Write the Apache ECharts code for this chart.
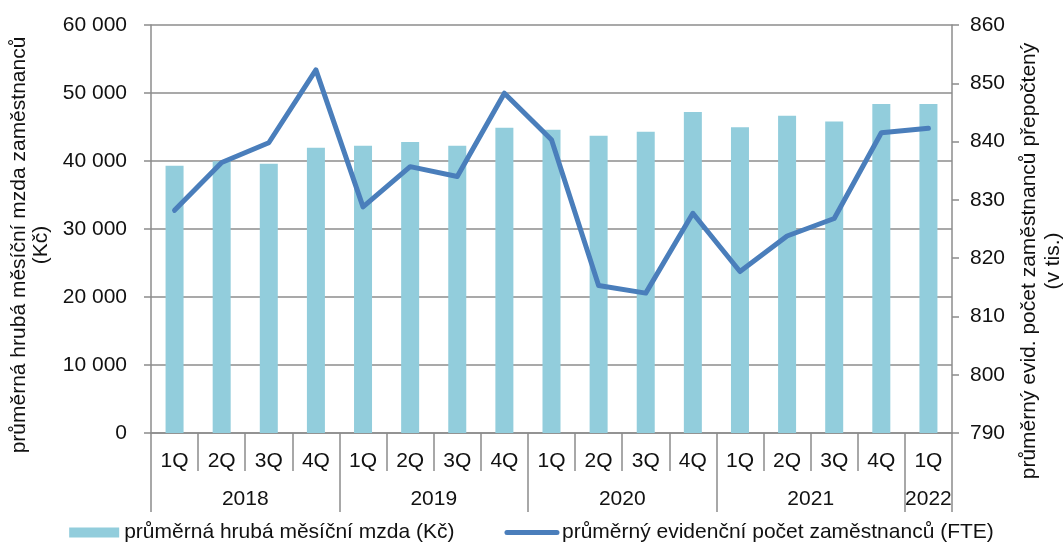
<!DOCTYPE html>
<html><head><meta charset="utf-8">
<script src="https://cdn.jsdelivr.net/npm/echarts@6/dist/echarts.min.js"></script>
<style>html,body{margin:0;padding:0;background:#fff}#c{width:1063px;height:550px}</style>
</head><body><div id="c"></div>
<script>
const quarters = ['1Q','2Q','3Q','4Q','1Q','2Q','3Q','4Q','1Q','2Q','3Q','4Q','1Q','2Q','3Q','4Q','1Q'];
const years = ['2018','2019','2020','2021','2022'];
const yearStart = [0,4,8,12,16];
const yearLen = [4,4,4,4,1];
const wages = [39300,39950,39600,41950,42250,42800,42250,44900,44600,43700,44300,47200,44950,46650,45800,48400,48400];
const employees = [828.2,836.4,839.8,852.3,828.8,835.7,834.0,848.3,840.3,815.3,814.0,827.7,817.7,823.8,826.8,841.5,842.3];
const wageName = 'průměrná hrubá měsíční mzda (Kč)';
const empName = 'průměrný evidenční počet zaměstnanců (FTE)';
const leftTitle = 'průměrná hrubá měsíční mzda zaměstnanců\n(Kč)';
const rightTitle = 'průměrný evid. počet zaměstnanců přepočtený\n(v tis.)';

const FONT = 'Liberation Sans, Arial, sans-serif';
const FS = 21;
const grey = '#8c8c8c';
const txt = '#111';

const yearLabels = quarters.map(() => '');
const yearShift = quarters.map(() => 0);
years.forEach((y, i) => {
  const mid = yearStart[i] + Math.floor(yearLen[i] / 2);
  yearLabels[mid] = y;
  yearShift[mid] = yearLen[i] % 2 === 0 ? 1 : 0;
});

const chart = echarts.init(document.getElementById('c'));
chart.setOption({
  animation: false,
  textStyle: { fontFamily: FONT },
  grid: { left: 151, right: 111, top: 25, bottom: 117, outerBoundsMode: 'none', containLabel: false },
  legend: {
    bottom: 2, left: 'center', itemWidth: 50, itemHeight: 10, itemGap: 50,
    textStyle: { fontSize: FS, color: txt, fontFamily: FONT },
    data: [
      { name: wageName, icon: 'rect' },
      { name: empName, itemStyle: { opacity: 0 }, lineStyle: { width: 5, color: '#4A7EBB', cap: 'round' } }
    ]
  },
  xAxis: [
    {
      type: 'category', data: quarters, position: 'bottom',
      axisLine: { show: true, lineStyle: { color: grey, width: 1.5 } },
      axisTick: { show: true, length: 38, interval: 0, lineStyle: { color: grey, width: 1.5 } },
      axisLabel: { interval: 0, margin: 18, fontSize: FS, color: txt }
    },
    {
      type: 'category', data: yearLabels, position: 'bottom',
      axisLine: { show: false },
      axisTick: { show: true, length: 79, interval: (i) => yearStart.indexOf(i) >= 0, lineStyle: { color: grey, width: 1.5 } },
      axisLabel: {
        interval: 0, margin: 56, fontSize: FS, color: txt,
        formatter: (v, i) => v ? (yearShift[i] ? '{s|' + v + '}' : v) : '',
        rich: { s: { fontSize: FS, color: txt, padding: [0, 47, 0, 0] } }
      }
    }
  ],
  yAxis: [
    {
      type: 'value', min: 0, max: 60000, interval: 10000, position: 'left',
      name: leftTitle, nameLocation: 'middle', nameGap: 95, nameRotate: 90,
      nameTextStyle: { fontSize: FS, color: txt, lineHeight: 22, padding: [0, 32, 0, 0] },
      axisLine: { show: true, lineStyle: { color: grey, width: 1.5 } },
      axisTick: { show: true, length: 7, lineStyle: { color: grey, width: 1.5 } },
      splitLine: { show: true, lineStyle: { color: grey, width: 1.5 } },
      axisLabel: { margin: 24, fontSize: FS, color: txt, formatter: v => String(v).replace(/\B(?=(\d{3})+(?!\d))/g, ' ') }
    },
    {
      type: 'value', min: 790, max: 860, interval: 10, position: 'right',
      name: rightTitle, nameLocation: 'middle', nameGap: 65, nameRotate: 90,
      nameTextStyle: { fontSize: FS, color: txt, lineHeight: 24, padding: [0, 64, 0, 0] },
      axisLine: { show: true, lineStyle: { color: grey, width: 1.5 } },
      axisTick: { show: true, length: 7, lineStyle: { color: grey, width: 1.5 } },
      splitLine: { show: false },
      axisLabel: { margin: 18, fontSize: FS, color: txt }
    }
  ],
  series: [
    { name: wageName, type: 'bar', data: wages, barWidth: 18, xAxisIndex: 0, yAxisIndex: 0,
      itemStyle: { color: '#92CDDC' } },
    { name: empName, type: 'line', data: employees, xAxisIndex: 0, yAxisIndex: 1,
      symbol: 'none', showSymbol: false,
      lineStyle: { color: '#4A7EBB', width: 5, join: 'round', cap: 'round' },
      itemStyle: { color: '#4A7EBB' } }
  ]
});
</script></body></html>
